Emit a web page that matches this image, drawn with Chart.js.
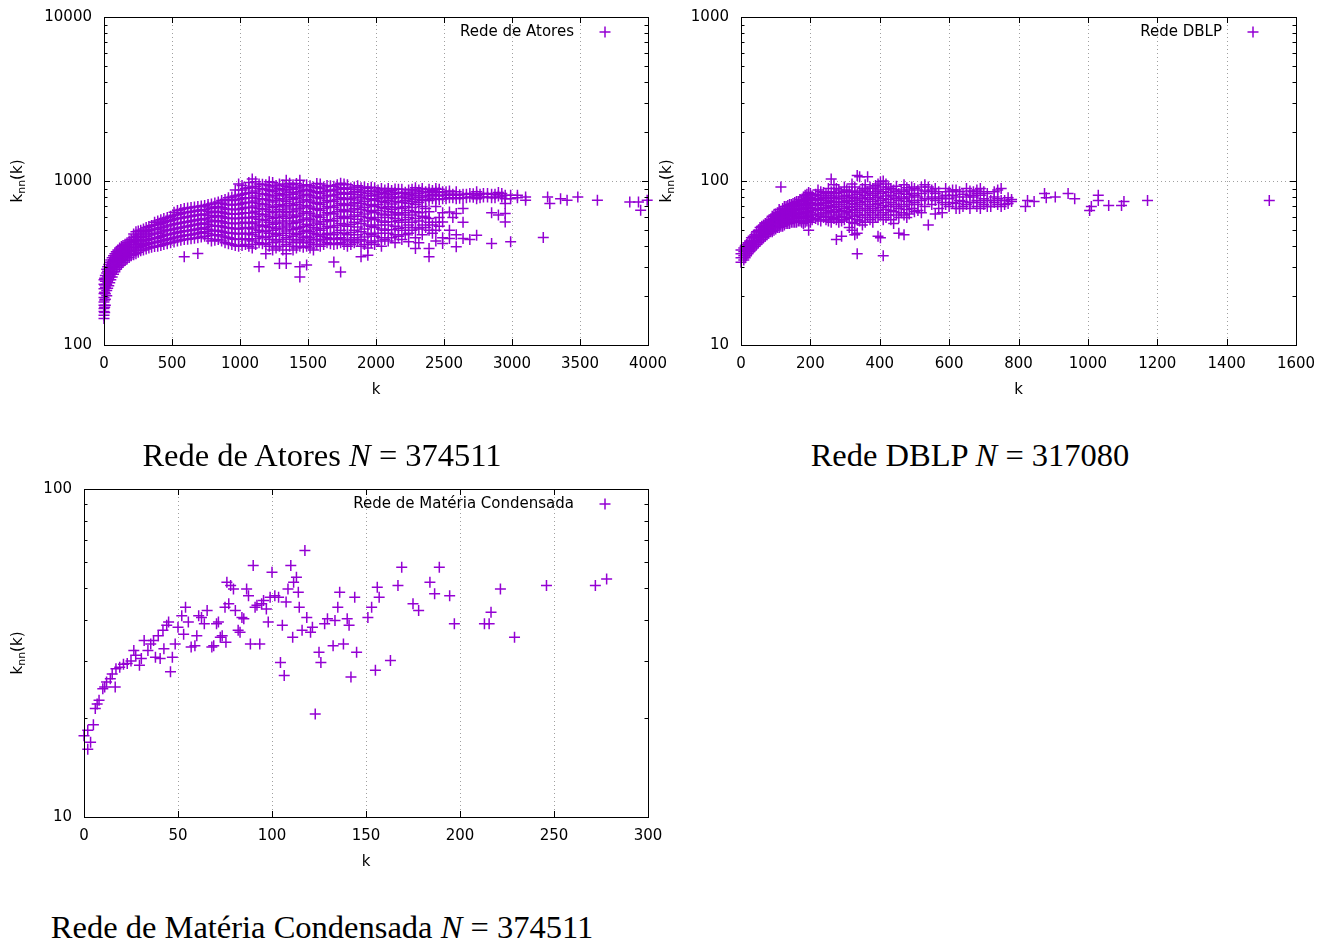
<!DOCTYPE html>
<html lang="pt">
<head>
<meta charset="utf-8">
<title>Grau médio dos vizinhos knn(k)</title>
<script src="https://cdn.jsdelivr.net/npm/chart.js@4.4.1/dist/chart.umd.min.js"></script>
<style>
  html, body { margin: 0; background: #fff; }
  body { position: relative; width: 1331px; height: 943px; overflow: hidden; }
  canvas { position: absolute; }
  .legenda {
    position: absolute;
    font-family: "Liberation Serif", "Times New Roman", serif;
    font-size: 32.5px;
    line-height: 36px;
    color: #000;
    white-space: nowrap;
    transform: translateX(-50%);
  }
</style>
</head>
<body>
<canvas id="graficoAtores" width="680" height="400" style="left:0;top:0"></canvas>
<canvas id="graficoDblp" width="681" height="400" style="left:650px;top:0"></canvas>
<canvas id="graficoMateria" width="680" height="410" style="left:0;top:470px"></canvas>
<div class="legenda" style="left:322px;top:437px">Rede de Atores <i>N</i> = 374511</div>
<div class="legenda" style="left:970px;top:437px">Rede DBLP <i>N</i> = 317080</div>
<div class="legenda" style="left:322px;top:909px">Rede de Matéria Condensada <i>N</i> = 374511</div>

<script>
// Rede de Atores: cada entrada é [k, [knn(k) ...]]
const atores = [
  [0, [145, 152, 160, 167, 175, 183, 195, 206, 220, 235, 250]],
  [5, [158, 170, 188, 210, 232, 255]],
  [10, [175, 190, 205, 225, 245, 265]],
  [20, [200, 215, 235, 255, 275, 290]],
  [27, [222, 242, 262, 282, 300]],
  [35, [230, 250, 270, 290, 310]],
  [42, [240, 260, 280, 300, 320]],
  [50, [250, 270, 290, 310, 330]],
  [60, [260, 280, 300, 320, 340]],
  [70, [270, 290, 310, 330, 350]],
  [80, [280, 300, 320, 340, 360]],
  [90, [290, 310, 330, 350, 370]],
  [102, [298, 318, 338, 358, 380]],
  [115, [305, 325, 345, 365, 390]],
  [128, [312, 332, 352, 375, 398]],
  [140, [320, 340, 360, 385, 405]],
  [155, [328, 348, 368, 392, 412]],
  [170, [335, 355, 375, 400, 420]],
  [185, [342, 362, 385, 410, 430]],
  [200, [350, 370, 395, 420, 440]],
  [218, [355, 378, 402, 428, 450, 475]],
  [235, [360, 385, 410, 435, 460, 490]],
  [252, [368, 392, 418, 442, 468, 495]],
  [270, [375, 400, 425, 450, 475, 500]],
  [290, [380, 405, 430, 455, 482, 510]],
  [310, [385, 410, 435, 460, 490, 520]],
  [330, [390, 415, 440, 468, 498, 528]],
  [350, [395, 420, 445, 475, 505, 535]],
  [372, [398, 422, 448, 478, 508, 540, 560]],
  [395, [400, 425, 450, 480, 510, 545, 570]],
  [418, [405, 430, 458, 488, 518, 552, 580]],
  [440, [410, 435, 465, 495, 525, 560, 590]],
  [465, [415, 440, 470, 500, 532, 568, 600]],
  [490, [420, 445, 475, 505, 540, 575, 610]],
  [515, [425, 450, 480, 510, 545, 582, 618, 645]],
  [540, [430, 455, 485, 515, 550, 590, 625, 660]],
  [565, [435, 460, 490, 520, 555, 595, 632, 670]],
  [590, [345, 440, 465, 495, 525, 560, 600, 640, 680]],
  [615, [442, 468, 498, 530, 565, 605, 645, 685]],
  [640, [445, 470, 500, 535, 570, 610, 650, 690]],
  [665, [448, 475, 505, 540, 575, 615, 655, 695]],
  [690, [361, 450, 480, 510, 545, 580, 620, 660, 700]],
  [715, [455, 485, 515, 550, 585, 625, 665, 705]],
  [740, [460, 490, 520, 555, 590, 630, 670, 710]],
  [765, [445, 478, 508, 542, 578, 615, 655, 695, 718]],
  [790, [430, 465, 495, 530, 565, 600, 640, 680, 725]],
  [815, [435, 468, 498, 532, 570, 608, 648, 690, 735]],
  [840, [440, 470, 500, 535, 575, 615, 655, 700, 745]],
  [865, [430, 462, 492, 528, 565, 605, 645, 688, 732, 760]],
  [890, [420, 455, 485, 520, 555, 595, 635, 675, 720, 770]],
  [915, [415, 450, 482, 518, 552, 592, 632, 672, 718, 765, 790]],
  [940, [410, 445, 480, 515, 550, 590, 630, 670, 715, 760, 800]],
  [965, [405, 442, 478, 512, 550, 590, 630, 670, 718, 765, 810, 880]],
  [990, [400, 440, 475, 510, 550, 590, 630, 670, 720, 770, 820, 960]],
  [1015, [405, 442, 478, 515, 555, 595, 635, 680, 730, 780, 830, 880, 940]],
  [1040, [410, 445, 480, 520, 560, 600, 640, 690, 740, 790, 840, 900]],
  [1065, [400, 438, 475, 515, 555, 598, 640, 690, 740, 790, 845, 910, 980]],
  [1090, [390, 430, 470, 510, 550, 595, 640, 690, 740, 790, 850, 920, 1030]],
  [1115, [410, 445, 485, 525, 562, 608, 655, 705, 755, 810, 870, 930, 990]],
  [1140, [300, 420, 460, 500, 540, 585, 630, 680, 730, 780, 840, 900, 960]],
  [1165, [415, 455, 495, 535, 580, 625, 675, 725, 778, 835, 895, 955]],
  [1190, [360, 410, 450, 490, 530, 575, 620, 670, 720, 775, 830, 890, 950]],
  [1215, [400, 440, 480, 520, 560, 605, 655, 705, 760, 815, 875, 935, 990]],
  [1240, [380, 420, 460, 500, 545, 590, 640, 690, 745, 800, 860, 920, 980]],
  [1265, [390, 430, 470, 512, 555, 600, 650, 700, 760, 820, 880, 940]],
  [1290, [314, 400, 440, 480, 525, 570, 620, 670, 720, 780, 840, 900, 960]],
  [1315, [380, 425, 465, 510, 555, 605, 655, 710, 765, 825, 885, 945]],
  [1340, [314, 360, 410, 450, 495, 540, 590, 640, 695, 750, 810, 870, 930, 1010]],
  [1365, [400, 440, 480, 525, 570, 620, 675, 730, 790, 850, 910, 970]],
  [1390, [380, 420, 460, 505, 550, 600, 650, 710, 770, 830, 890, 950]],
  [1415, [390, 430, 470, 512, 560, 610, 665, 720, 785, 845, 905, 965]],
  [1440, [260, 300, 400, 440, 480, 520, 570, 620, 680, 740, 800, 860, 920, 1010]],
  [1465, [395, 420, 450, 490, 530, 580, 635, 695, 755, 815, 875, 935]],
  [1490, [307, 400, 430, 460, 500, 545, 595, 650, 710, 770, 830, 890, 950]],
  [1515, [390, 420, 450, 490, 535, 585, 635, 695, 755, 815, 875, 935]],
  [1540, [380, 410, 440, 480, 520, 570, 620, 680, 740, 800, 860, 920]],
  [1565, [410, 440, 470, 510, 555, 610, 670, 730, 790, 850, 910, 965]],
  [1590, [400, 430, 460, 500, 545, 600, 660, 720, 780, 840, 900, 960]],
  [1615, [410, 440, 470, 515, 565, 620, 680, 740, 800, 860, 920]],
  [1640, [420, 450, 480, 530, 580, 640, 700, 760, 820, 880, 940]],
  [1665, [415, 445, 475, 525, 575, 635, 695, 755, 815, 875, 935]],
  [1690, [321, 410, 440, 470, 520, 570, 630, 690, 750, 810, 870, 930]],
  [1715, [415, 445, 485, 535, 590, 650, 710, 770, 830, 890, 950]],
  [1740, [279, 420, 450, 500, 550, 610, 670, 730, 790, 850, 910, 970]],
  [1765, [410, 440, 480, 540, 600, 660, 720, 780, 840, 900, 960]],
  [1790, [400, 430, 470, 530, 590, 650, 710, 770, 830, 890, 950]],
  [1815, [410, 440, 485, 545, 605, 665, 725, 785, 845, 905]],
  [1840, [420, 450, 500, 560, 620, 680, 740, 800, 860, 920]],
  [1865, [430, 470, 525, 585, 645, 705, 765, 825, 885, 935]],
  [1890, [345, 400, 440, 490, 550, 610, 670, 730, 790, 850, 910]],
  [1915, [410, 455, 510, 570, 630, 690, 750, 810, 870, 920]],
  [1940, [353, 390, 430, 480, 540, 600, 660, 720, 780, 840, 900]],
  [1965, [420, 470, 530, 590, 650, 710, 770, 820, 870, 915]],
  [1990, [410, 460, 520, 580, 640, 700, 760, 810, 860, 910]],
  [2015, [430, 480, 540, 600, 660, 720, 780, 830, 880]],
  [2040, [400, 450, 510, 570, 630, 690, 750, 800, 850, 900]],
  [2065, [440, 500, 560, 620, 680, 740, 790, 835, 880]],
  [2090, [430, 480, 540, 600, 650, 700, 760, 810, 860, 900]],
  [2115, [450, 505, 565, 620, 670, 725, 780, 830, 875]],
  [2140, [420, 470, 530, 590, 640, 690, 750, 800, 850, 895]],
  [2165, [460, 515, 575, 630, 690, 745, 795, 845, 890]],
  [2190, [440, 500, 560, 620, 680, 740, 790, 840, 890]],
  [2215, [470, 520, 580, 640, 700, 760, 810, 855]],
  [2240, [426, 480, 540, 600, 660, 730, 780, 830, 880]],
  [2265, [500, 560, 620, 690, 750, 800, 845, 890]],
  [2290, [388, 450, 520, 590, 650, 720, 770, 820, 870, 910]],
  [2315, [420, 510, 570, 640, 740, 790, 840, 880]],
  [2340, [470, 540, 610, 700, 760, 810, 860, 900]],
  [2365, [520, 600, 680, 770, 815, 860]],
  [2390, [345, 388, 500, 560, 590, 650, 760, 800, 850, 890]],
  [2415, [480, 540, 780, 830, 875]],
  [2440, [430, 501, 560, 700, 780, 820, 860, 900]],
  [2465, [530, 600, 770, 810, 850, 890]],
  [2490, [416, 450, 563, 640, 780, 820, 860]],
  [2515, [780, 820, 860]],
  [2540, [446, 500, 647, 790, 830, 870]],
  [2565, [600, 790, 830]],
  [2590, [397, 470, 633, 780, 820, 860]],
  [2615, [785, 825]],
  [2640, [446, 560, 680, 790, 830]],
  [2665, [790, 830]],
  [2690, [440, 800, 840]],
  [2715, [795, 835]],
  [2740, [467, 780, 820, 860]],
  [2765, [790, 830]],
  [2790, [800, 840]],
  [2820, [800, 840]],
  [2850, [416, 640, 790, 830]],
  [2875, [790, 830]],
  [2900, [620, 810, 850]],
  [2925, [800, 840]],
  [2950, [563, 633, 728, 780, 820]],
  [2990, [426, 780, 818]],
  [3040, [790, 818]],
  [3100, [762, 800]],
  [3230, [452]], [3262, [799]], [3278, [728]], [3357, [780]], [3405, [762]],
  [3484, [799]], [3628, [762]], [3866, [745]], [3930, [745]], [3946, [663]], [3994, [762]]
];

// Rede DBLP: [k, [knn(k) ...]]
const dblp = [
  [0, [32, 34, 36, 38]],
  [8, [33, 35, 37, 39]],
  [12, [34, 36, 38, 40]],
  [16, [35, 37, 39, 41]],
  [20, [36, 38, 40, 42]],
  [25, [37, 39, 41, 43]],
  [30, [38, 40, 42, 45]],
  [35, [39, 41, 43, 46]],
  [40, [40, 42, 45, 47]],
  [45, [41, 43, 46, 49]],
  [50, [42, 45, 47, 50]],
  [55, [43, 46, 49, 52]],
  [60, [44, 47, 50, 53]],
  [65, [45, 48, 51, 54]],
  [70, [46, 49, 52, 55]],
  [75, [47, 50, 53, 56]],
  [80, [48, 51, 54, 57]],
  [85, [49, 52, 55, 58]],
  [90, [49, 52, 55, 58, 61]],
  [95, [50, 53, 56, 59, 62]],
  [100, [51, 54, 57, 60, 63]],
  [105, [52, 55, 58, 61, 64]],
  [110, [52, 55, 58, 61, 64, 67]],
  [115, [53, 56, 59, 62, 65, 92]],
  [120, [53, 56, 59, 62, 65, 68]],
  [125, [54, 57, 60, 63, 66, 70]],
  [130, [55, 58, 61, 64, 67, 70]],
  [135, [55, 58, 61, 64, 67, 71]],
  [140, [55, 58, 61, 64, 68, 72]],
  [145, [56, 59, 62, 65, 68, 72]],
  [150, [56, 59, 63, 66, 70, 73]],
  [155, [56, 59, 62, 66, 70, 74]],
  [160, [56, 60, 63, 67, 71, 75]],
  [165, [57, 60, 63, 67, 71, 75]],
  [170, [57, 61, 64, 68, 72, 77]],
  [175, [56, 60, 64, 68, 72, 76]],
  [180, [55, 59, 63, 67, 71, 75, 80]],
  [185, [56, 60, 64, 68, 72, 77, 82]],
  [190, [57, 61, 65, 69, 73, 78, 83]],
  [195, [50, 57, 61, 65, 69, 74, 79, 85]],
  [200, [56, 60, 64, 69, 74, 79, 84]],
  [205, [58, 62, 66, 71, 76, 81]],
  [215, [59, 63, 68, 73, 78, 83]],
  [222, [58, 62, 67, 72, 77, 82, 88]],
  [230, [57, 61, 66, 71, 76, 81, 86]],
  [238, [60, 64, 69, 74, 79, 85]],
  [245, [58, 63, 68, 73, 78, 84]],
  [252, [57, 61, 66, 71, 76, 82, 90]],
  [260, [56, 60, 65, 70, 75, 80, 86, 103]],
  [268, [59, 64, 69, 74, 79, 85, 95]],
  [275, [44, 58, 62, 67, 72, 78, 84, 90]],
  [282, [56, 60, 65, 70, 75, 81, 88]],
  [290, [46, 57, 61, 66, 72, 78, 85]],
  [298, [58, 63, 68, 74, 80, 86, 92]],
  [305, [60, 65, 70, 76, 82, 88]],
  [312, [52, 59, 64, 69, 75, 81, 87]],
  [320, [50, 56, 62, 67, 73, 79, 86, 96]],
  [328, [47, 55, 61, 66, 72, 78, 85, 92]],
  [335, [36, 48, 58, 64, 70, 76, 83, 108]],
  [342, [57, 62, 68, 74, 80, 87, 106]],
  [350, [54, 60, 66, 72, 78, 85, 90]],
  [358, [56, 62, 68, 75, 82, 88, 95]],
  [365, [60, 66, 72, 79, 86, 106]],
  [372, [58, 64, 70, 77, 84, 92]],
  [380, [56, 62, 68, 75, 82, 90]],
  [388, [60, 66, 72, 79, 86, 94]],
  [395, [46, 60, 66, 73, 80, 88, 96]],
  [402, [45, 62, 69, 76, 84, 92, 99]],
  [410, [35, 58, 64, 71, 78, 86, 100]],
  [418, [60, 67, 74, 81, 89, 96]],
  [425, [62, 70, 77, 85, 92]],
  [432, [58, 66, 74, 82, 90]],
  [440, [55, 65, 72, 80, 88]],
  [448, [62, 70, 78, 86, 93]],
  [455, [48, 60, 68, 76, 84]],
  [462, [64, 72, 80, 88]],
  [470, [47, 62, 70, 78, 86, 95]],
  [478, [60, 67, 75, 83, 91]],
  [485, [63, 72, 80, 88]],
  [492, [68, 76, 84, 92]],
  [500, [65, 74, 82, 90]],
  [510, [66, 72, 80, 88]],
  [520, [64, 76, 84, 92]],
  [530, [70, 78, 87, 95]],
  [540, [54, 78, 86, 92]],
  [550, [72, 80, 88]],
  [560, [63, 76, 84, 90]],
  [570, [68, 78, 86]],
  [580, [64, 74, 80]],
  [590, [72, 82, 90]],
  [600, [70, 78, 86]],
  [610, [74, 82, 88]],
  [620, [68, 73, 80, 88]],
  [630, [68, 76, 86]],
  [640, [70, 75, 83]],
  [650, [72, 80, 90]],
  [660, [68, 74, 82, 87]],
  [670, [74, 80, 86]],
  [680, [70, 76, 84, 88]],
  [690, [68, 74, 82, 90]],
  [700, [72, 78, 86]],
  [710, [70, 76, 84]],
  [720, [70, 76]],
  [730, [74, 80, 86]],
  [740, [72, 78, 88]],
  [750, [70, 76, 90]],
  [760, [72, 76]],
  [770, [73, 79]],
  [780, [75, 77]],
  [820, [70]], [826, [76]], [845, [75]], [875, [84]], [880, [79]], [906, [80]],
  [943, [84]], [962, [78]], [1005, [66]], [1010, [70]], [1030, [76, 82]],
  [1060, [71]], [1097, [71]], [1104, [75]], [1172, [76]], [1523, [76]]
];

// Rede de Matéria Condensada: pares [k, knn(k)]
const materia = [
  [0, 17.7], [2, 16.1], [3.5, 16.9], [2, 18.4], [5, 19.1], [6, 21.4], [7, 22.1], [8, 22.7],
  [10, 24.6], [11, 24.9], [12, 25.8], [14, 26.4], [15, 27.3], [16.6, 24.9], [17, 28.3],
  [19, 28.6], [21, 29.2], [23, 29.4], [25, 29.9], [26.5, 32.2], [27.5, 31.1], [29.5, 29],
  [30.5, 30.4], [32, 34.5], [34, 32.2], [35.5, 33.7], [37, 34.5], [38, 30.7], [39.5, 35.7],
  [40.5, 30.4], [42, 37.1], [42.5, 32.6], [44, 38.4], [45, 39.3], [46, 27.7], [47, 30.7],
  [48.5, 33.7], [50, 37.9], [52, 41.1], [53, 36.1], [54, 43.6], [55.5, 39.3], [57, 33],
  [59, 33.3], [60, 35.7], [61, 41.1], [62.5, 40.6], [64, 38.8], [65.5, 42.6], [68, 33],
  [69, 33.3], [70.5, 38.8], [71.5, 39.3], [72.5, 35.3], [73.5, 35.7], [75, 43.6], [75.5, 34.1],
  [76, 52], [77, 44.7], [78, 50.8], [79.5, 49.6], [80.5, 42.6], [82, 37.1], [83, 36.6],
  [84, 40.6], [85, 40.2], [86.5, 49.6], [87.5, 47.3], [88.5, 33.7], [90, 58.4], [91, 43.6],
  [92, 44.2], [93.5, 33.7], [94.5, 44.7], [95.5, 45.7], [97, 43.1], [98, 39.3], [99, 46.8],
  [100, 55.7], [101.5, 47.3], [103.5, 46.8], [104.5, 29.6], [105.5, 38.4], [106.5, 27],
  [107.5, 45.2], [108.5, 49.6], [110, 58.4], [111, 35.3], [111.5, 52], [113, 53.8], [114, 48.4],
  [114.5, 43.6], [116, 37.1], [117.5, 64.9], [118.5, 40.6], [120.5, 36.6], [121.5, 37.9],
  [123, 20.6], [125, 31.8], [126, 29.6], [128, 38.8], [129.5, 40.2], [132.5, 33.3], [133.5, 39.7],
  [135, 43.6], [136, 48.4], [138, 33.7], [140, 40.2], [141, 38.4], [142, 26.7], [144, 46.8],
  [145, 31.8], [151, 40.6], [153, 43.6], [155, 28], [156, 50.2], [157, 46.8], [163, 30],
  [167, 50.8], [169, 57.7], [175, 44.7], [178, 42.6], [184, 52], [186.5, 47.9], [189, 57.7],
  [194.5, 47.3], [197, 38.8], [213, 38.8], [215.5, 38.8], [216.5, 42.1], [221.5, 49.6],
  [229, 35.3], [246, 50.8], [272, 50.8], [278, 53.2]
];

const atoresTicksX = [0, 500, 1000, 1500, 2000, 2500, 3000, 3500, 4000];
const atoresTicksY = [100, 1000, 10000];
const dblpTicksX = [0, 200, 400, 600, 800, 1000, 1200, 1400, 1600];
const dblpTicksY = [10, 100, 1000];
const materiaTicksX = [0, 50, 100, 150, 200, 250, 300];
const materiaTicksY = [10, 100];

const VIOLETA = '#9400d3';
const FONTE = '15px "DejaVu Sans", sans-serif';
const FONTE_SUB = '11px "DejaVu Sans", sans-serif';

function porColunas(colunas) {
  const pts = [];
  colunas.forEach(([k, valores]) => valores.forEach(v => pts.push({ x: k, y: v })));
  return pts;
}

function cruz(ctx, x, y, r) {
  ctx.beginPath();
  ctx.moveTo(x - r, y); ctx.lineTo(x + r, y);
  ctx.moveTo(x, y - r); ctx.lineTo(x, y + r);
  ctx.stroke();
}

// sem folga extra dos rótulos: a área do gráfico fica onde o layout.padding manda
function semFolga(s) {
  s.paddingTop = 0;
  s.paddingBottom = 0;
  s.paddingLeft = 0;
  s.paddingRight = 0;
}

// moldura, marcas internas, grade pontilhada, chave e rótulos dos eixos (estilo gnuplot)
const molduraGnuplot = {
  id: 'molduraGnuplot',
  beforeDatasetsDraw(chart) {
    const { ctx, chartArea: a, scales: { x, y } } = chart;
    ctx.save();
    ctx.strokeStyle = '#a0a0a0';
    ctx.lineWidth = 1;
    ctx.setLineDash([1, 3]);
    ctx.beginPath();
    x.ticks.forEach(t => {
      const px = Math.round(x.getPixelForValue(t.value)) + 0.5;
      if (px > a.left + 2 && px < a.right - 2) { ctx.moveTo(px, a.top); ctx.lineTo(px, a.bottom); }
    });
    y.ticks.forEach(t => {
      const py = Math.round(y.getPixelForValue(t.value)) + 0.5;
      if (py > a.top + 2 && py < a.bottom - 2) { ctx.moveTo(a.left, py); ctx.lineTo(a.right, py); }
    });
    ctx.stroke();
    ctx.restore();
  },
  afterDatasetsDraw(chart, args, opts) {
    const { ctx, chartArea: a, scales: { x, y } } = chart;
    ctx.save();
    ctx.strokeStyle = '#000';
    ctx.lineWidth = 1;
    ctx.strokeRect(a.left + 0.5, a.top + 0.5, a.right - a.left, a.bottom - a.top);

    ctx.beginPath();
    x.ticks.forEach(t => {
      const px = Math.round(x.getPixelForValue(t.value)) + 0.5;
      ctx.moveTo(px, a.bottom); ctx.lineTo(px, a.bottom - 6);
      ctx.moveTo(px, a.top); ctx.lineTo(px, a.top + 6);
    });
    for (let d = y.min; d < y.max * 0.99; d *= 10) {
      for (let m = 1; m < 10; m++) {
        const py = Math.round(y.getPixelForValue(d * m)) + 0.5;
        const len = m === 1 ? 6 : 3.5;
        ctx.moveTo(a.left, py); ctx.lineTo(a.left + len, py);
        ctx.moveTo(a.right, py); ctx.lineTo(a.right - len, py);
      }
    }
    ctx.stroke();

    // chave
    ctx.fillStyle = '#000';
    ctx.font = FONTE;
    ctx.textAlign = 'right';
    ctx.textBaseline = 'middle';
    ctx.fillText(opts.rotulo, a.right - 74, a.top + 15);
    ctx.strokeStyle = VIOLETA;
    ctx.lineWidth = 1.5;
    cruz(ctx, a.right - 43, a.top + 15, 5.5);

    // título do eixo x
    ctx.textAlign = 'center';
    ctx.fillText('k', (a.left + a.right) / 2, a.bottom + 45);

    // título do eixo y: k_nn(k)
    ctx.translate(opts.tituloY, (a.top + a.bottom) / 2);
    ctx.rotate(-Math.PI / 2);
    ctx.textAlign = 'left';
    ctx.font = FONTE;
    const w1 = ctx.measureText('k').width;
    const w3 = ctx.measureText('(k)').width;
    ctx.font = FONTE_SUB;
    const w2 = ctx.measureText('nn').width;
    let cx = -(w1 + w2 + w3) / 2;
    ctx.font = FONTE;
    ctx.fillText('k', cx, 0);
    cx += w1;
    ctx.font = FONTE_SUB;
    ctx.fillText('nn', cx, 4);
    cx += w2;
    ctx.font = FONTE;
    ctx.fillText('(k)', cx, 0);
    ctx.restore();
  }
};

function criarGrafico(id, pontos, cfg) {
  return new Chart(document.getElementById(id), {
    type: 'scatter',
    data: {
      datasets: [{
        data: pontos,
        pointStyle: 'cross',
        pointRadius: 5.5,
        pointHoverRadius: 5.5,
        pointBorderWidth: 1.5,
        pointBorderColor: VIOLETA,
        pointBackgroundColor: VIOLETA,
        clip: false
      }]
    },
    options: {
      responsive: false,
      animation: false,
      devicePixelRatio: 1,
      events: [],
      layout: { padding: { top: cfg.topo, right: cfg.direita, left: 0, bottom: 0 } },
      scales: {
        x: {
          type: 'linear',
          min: cfg.ticksX[0],
          max: cfg.ticksX[cfg.ticksX.length - 1],
          afterBuildTicks: s => { s.ticks = cfg.ticksX.map(v => ({ value: v })); },
          afterFit: s => { s.height = cfg.alturaX; semFolga(s); },
          grid: { display: false, drawTicks: false },
          border: { display: false },
          ticks: { color: '#000', font: { family: '"DejaVu Sans"', size: 15 }, padding: 10, maxRotation: 0, autoSkip: false, callback: v => String(v) }
        },
        y: {
          type: 'logarithmic',
          min: cfg.ticksY[0],
          max: cfg.ticksY[cfg.ticksY.length - 1],
          afterBuildTicks: s => { s.ticks = cfg.ticksY.map(v => ({ value: v })); },
          afterFit: s => { s.width = cfg.larguraY; semFolga(s); },
          grid: { display: false, drawTicks: false },
          border: { display: false },
          ticks: { color: '#000', font: { family: '"DejaVu Sans"', size: 15 }, padding: 12, autoSkip: false, callback: v => String(v) }
        }
      },
      plugins: {
        legend: { display: false },
        tooltip: { enabled: false },
        molduraGnuplot: { rotulo: cfg.rotulo, tituloY: cfg.tituloY }
      }
    },
    plugins: [molduraGnuplot]
  });
}

criarGrafico('graficoAtores', porColunas(atores), {
  ticksX: atoresTicksX, ticksY: atoresTicksY,
  larguraY: 104, alturaX: 55, topo: 17, direita: 32,
  rotulo: 'Rede de Atores', tituloY: 18
});

criarGrafico('graficoDblp', porColunas(dblp), {
  ticksX: dblpTicksX, ticksY: dblpTicksY,
  larguraY: 91, alturaX: 55, topo: 17, direita: 35,
  rotulo: 'Rede DBLP', tituloY: 17
});

criarGrafico('graficoMateria', materia.map(([k, v]) => ({ x: k, y: v })), {
  ticksX: materiaTicksX, ticksY: materiaTicksY,
  larguraY: 84, alturaX: 63, topo: 19, direita: 32,
  rotulo: 'Rede de Matéria Condensada', tituloY: 18
});
</script>
</body>
</html>
